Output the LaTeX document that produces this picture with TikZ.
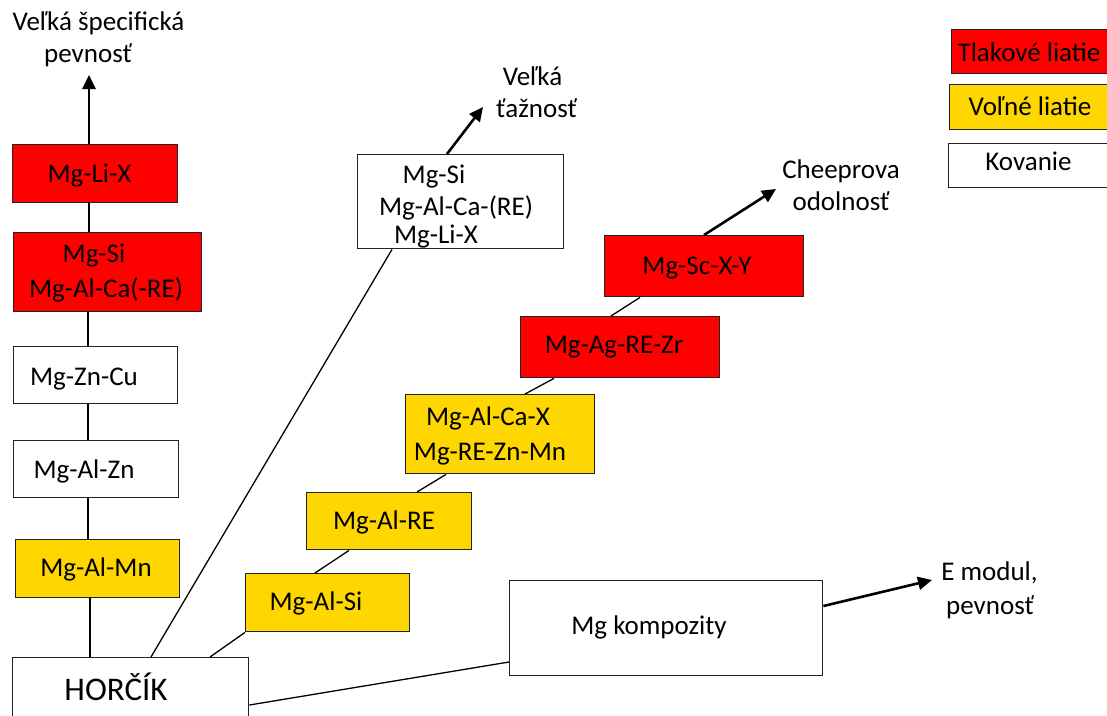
\documentclass[tikz,border=0pt]{standalone}
\usepackage{fontspec}
\setmainfont{Carlito}
\usetikzlibrary{arrows.meta,calc}
\definecolor{tlak}{RGB}{255,0,0}
\definecolor{volne}{RGB}{255,215,0}
\definecolor{edge}{RGB}{35,35,35}
\begin{document}
\begin{tikzpicture}[x=1pt,y=-1pt,
  box/.style={draw=edge,line width=1.4pt,rectangle,inner sep=0pt,anchor=north west},
  redbox/.style={box,fill=tlak},
  yelbox/.style={box,fill=volne},
  whbox/.style={box,fill=white},
  txt/.style={anchor=base,inner sep=0pt,font=\fontsize{27}{32}\selectfont},
  link/.style={draw=black,line width=1.3pt},
  goal/.style={draw=black,line width=2.6pt,-{Triangle[length=14pt,width=13pt]}}]
\useasboundingbox (0,0) rectangle (1107,715);
\clip (0,0) rectangle (1107,715);
% boxes
\node[redbox,minimum width=165,minimum height=58] (li) at (12,144) {};
\node[redbox,minimum width=188,minimum height=79] (si) at (13,232) {};
\node[whbox,minimum width=164,minimum height=57] (zn) at (13,346) {};
\node[whbox,minimum width=165,minimum height=57] (alzn) at (13,440) {};
\node[yelbox,minimum width=164,minimum height=58] (mn) at (15,539) {};
\node[whbox,minimum width=236,minimum height=70] (hor) at (12,657) {};
\node[whbox,minimum width=206,minimum height=94] (wb) at (357,154) {};
\node[yelbox,minimum width=164,minimum height=58] (alsi) at (245,573) {};
\node[yelbox,minimum width=165,minimum height=57] (alre) at (306,492) {};
\node[yelbox,minimum width=189,minimum height=79] (alca) at (405,394) {};
\node[redbox,minimum width=199,minimum height=61] (ag) at (520,316) {};
\node[redbox,minimum width=199,minimum height=61] (sc) at (604,235) {};
\node[whbox,minimum width=313,minimum height=95] (komp) at (509,580) {};
% legend
\node[redbox,minimum width=170,minimum height=44] (lt) at (951,29) {};
\node[yelbox,minimum width=170,minimum height=45] (lv) at (949,84) {};
\node[whbox,minimum width=170,minimum height=44] (lk) at (948,143) {};
% texts in boxes
\node[txt] (tli) at (89.5,182) {Mg-Li-X};
\node[txt] (tsi1) at (94,262) {Mg-Si};
\node[txt] (tsi2) at (106,297) {Mg-Al-Ca(-RE)};
\node[txt] (tzn) at (84,385) {Mg-Zn-Cu};
\node[txt] (talzn) at (84,478) {Mg-Al-Zn};
\node[txt] (tmn) at (96,576) {Mg-Al-Mn};
\node[txt,font=\fontsize{33}{38}\selectfont] (thor) at (116,700) {HORČÍK};
\node[txt] (twb1) at (434,183) {Mg-Si};
\node[txt] (twb2) at (456,215) {Mg-Al-Ca-(RE)};
\node[txt] (twb3) at (436,243) {Mg-Li-X};
\node[txt] (talsi) at (316,610) {Mg-Al-Si};
\node[txt] (talre) at (384,529) {Mg-Al-RE};
\node[txt] (talca1) at (488,425) {Mg-Al-Ca-X};
\node[txt] (talca2) at (490,460) {Mg-RE-Zn-Mn};
\node[txt] (tag) at (614,353) {Mg-Ag-RE-Zr};
\node[txt] (tsc) at (697,274) {Mg-Sc-X-Y};
\node[txt] (tkomp) at (649,634) {Mg kompozity};
\node[txt] (tlt) at (1029,61) {Tlakové liatie};
\node[txt] (tlv) at (1030,115) {Voľné liatie};
\node[txt] (tlk) at (1028.5,170) {Kovanie};
% goal labels
\node[txt] (g1a) at (98.5,30) {Veľká špecifická};
\node[txt] (g1b) at (88,62) {pevnosť};
\node[txt] (g2a) at (532.5,85) {Veľká};
\node[txt] (g2b) at (536.5,117) {ťažnosť};
\node[txt] (g3a) at (841,178) {Cheeprova};
\node[txt] (g3b) at (841,210) {odolnosť};
\node[txt] (g4a) at (989.5,580) {E modul,};
\node[txt] (g4b) at (990,614) {pevnosť};
% arrow tips
\coordinate (tip1) at (89,75);
\coordinate (tip2) at (483,107);
\coordinate (tip3) at (776,189);
\coordinate (tip4) at (932,580);
% connectors
\draw[goal] ($(li.north west)+(77,0)$) -- (tip1);
\draw[link] ($(li.south west)+(77,0)$) -- ($(si.north west)+(76,0)$);
\draw[link] ($(si.south west)+(75,0)$) -- ($(zn.north west)+(75,0)$);
\draw[link] ($(zn.south west)+(75,0)$) -- ($(alzn.north west)+(75,0)$);
\draw[link] ($(alzn.south west)+(75,0)$) -- ($(mn.north west)+(73,0)$);
\draw[link] ($(mn.south west)+(75,0)$) -- ($(hor.north west)+(78,0)$);
\draw[link] ($(hor.north west)+(139,0)$) -- ($(wb.south west)+(35,0)$);
\draw[goal] ($(wb.north west)+(90,0)$) -- (tip2);
\draw[link] ($(hor.north west)+(198,0)$) -- (alsi.south west);
\draw[link] ($(alsi.north west)+(70,0)$) -- ($(alre.south west)+(43,0)$);
\draw[link] ($(alre.north west)+(111,0)$) -- ($(alca.south west)+(41,0)$);
\draw[link] ($(alca.north west)+(120,0)$) -- ($(ag.south west)+(34,0)$);
\draw[link] ($(ag.north west)+(91,0)$) -- ($(sc.south west)+(36,0)$);
\draw[goal] ($(sc.north west)+(100,0)$) -- (tip3);
\draw[link] ($(hor.north east)+(0,48)$) -- ($(komp.north west)+(0,82)$);
\draw[goal] ($(komp.north east)+(0,26)$) -- (tip4);
\end{tikzpicture}
\end{document}
